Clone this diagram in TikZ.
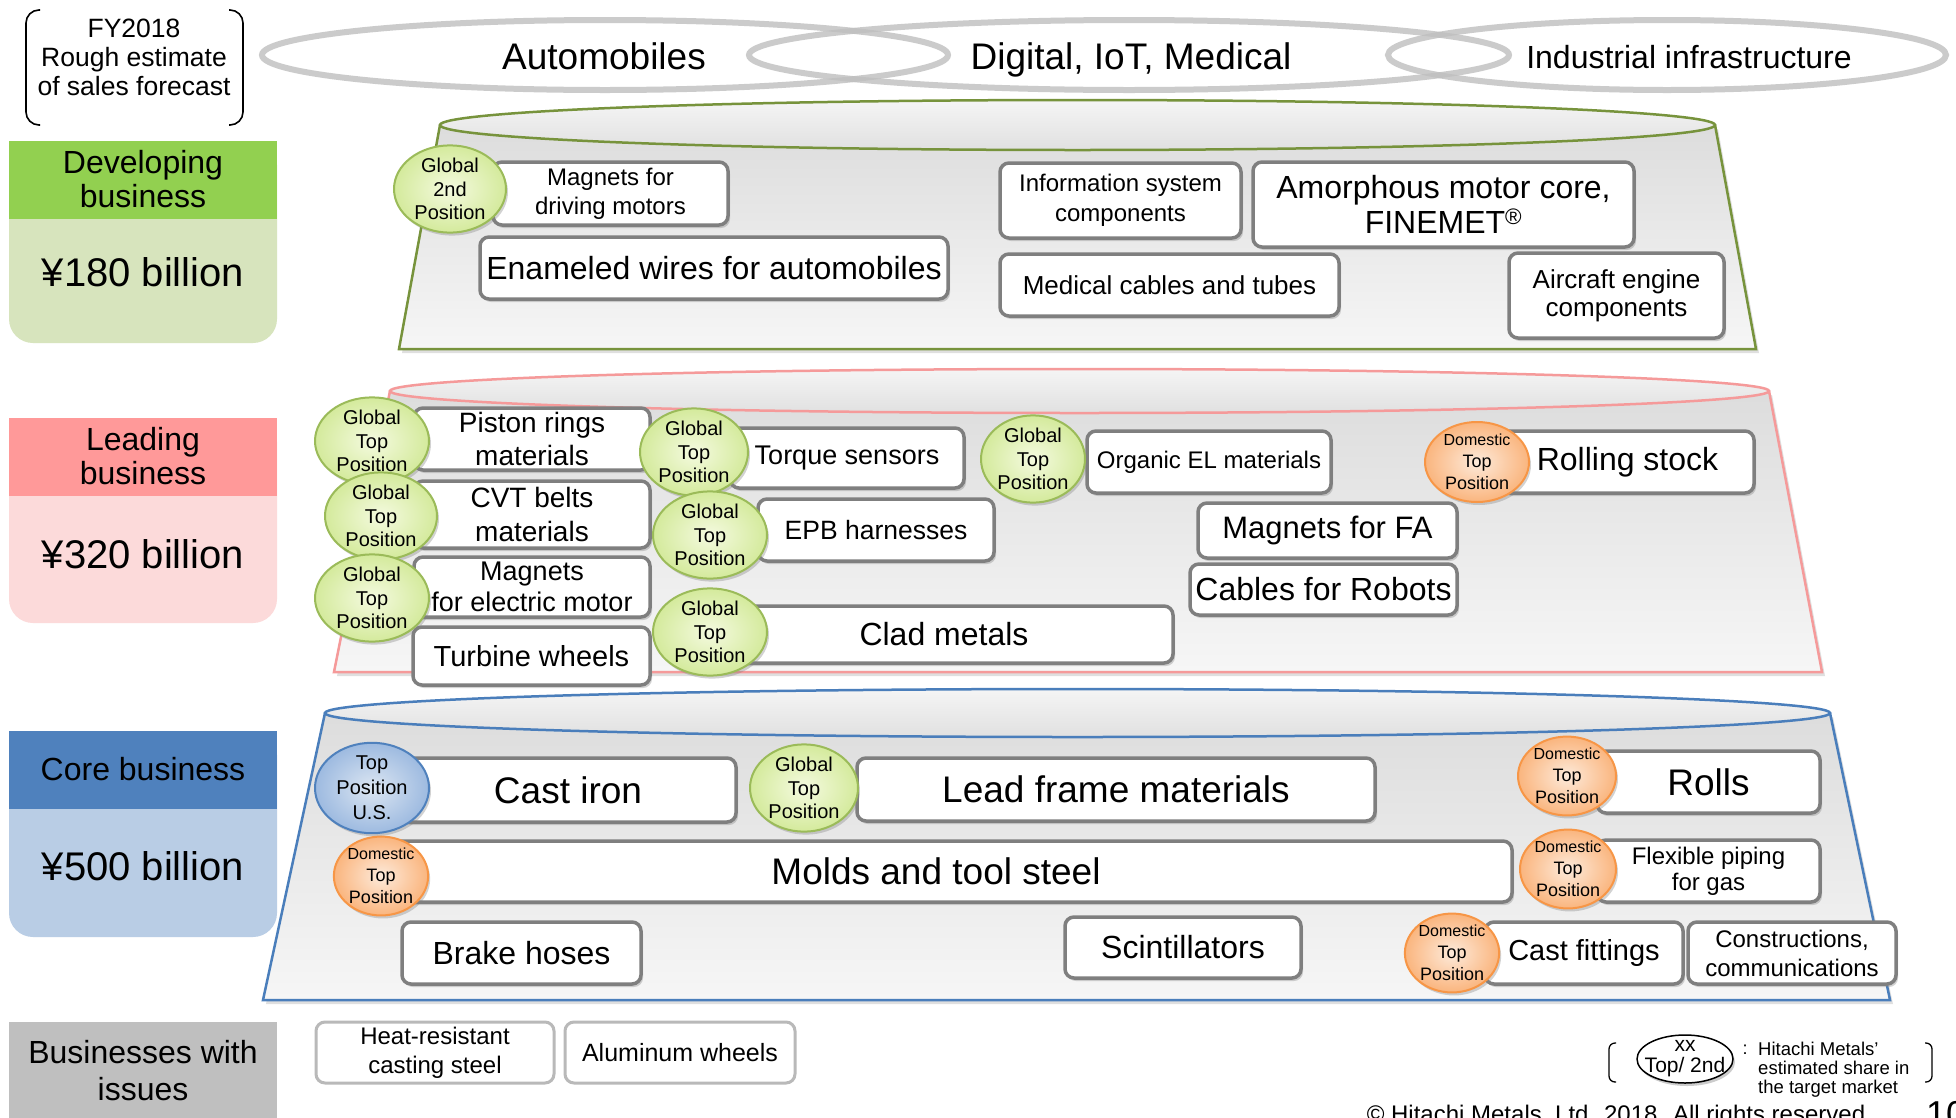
\documentclass[tikz,border=0pt]{standalone}
\usepackage{fontspec}
\setmainfont{Liberation Sans}
\usetikzlibrary{shapes.geometric,shadows}

\definecolor{devhead}{HTML}{92D050}
\definecolor{devbody}{HTML}{D7E4BD}
\definecolor{leadhead}{HTML}{FF9999}
\definecolor{leadbody}{HTML}{FCDADA}
\definecolor{corehead}{HTML}{4F81BD}
\definecolor{corebody}{HTML}{B9CDE5}
\definecolor{issuehead}{HTML}{BFBFBF}
\definecolor{tiergreen}{HTML}{77933C}
\definecolor{tierred}{HTML}{F59A9A}
\definecolor{tierblue}{HTML}{4A7EBB}
\definecolor{boxgray}{HTML}{7F7F7F}
\definecolor{ringgray}{HTML}{BFBFBF}
\definecolor{gline}{HTML}{9BBB59}
\definecolor{gin}{HTML}{F4FADF}
\definecolor{gout}{HTML}{D4EA9C}
\definecolor{oline}{HTML}{F79646}
\definecolor{oin}{HTML}{FDEADA}
\definecolor{oout}{HTML}{FAB57E}
\definecolor{bline}{HTML}{4F81BD}
\definecolor{bin}{HTML}{DCE6F2}
\definecolor{bout}{HTML}{9DBAE0}

\newcommand\fsz[2]{\fontsize{#1}{#2}\selectfont}

\begin{document}
\begin{tikzpicture}[x=1pt,y=-1pt,
  sz/.style 2 args={minimum width=#1pt, minimum height=#2pt},
  ring/.style={draw=ringgray, line width=6pt, draw opacity=0.8},
  bracketline/.style={draw=black, line width=1.6pt, rounded corners=13pt},
  tierbody/.style={line width=2.5pt, top color=gray!27, bottom color=gray!7,
    drop shadow={shadow xshift=3pt, shadow yshift=-4pt, opacity=0.25}},
  tiertop/.style={line width=2.5pt, top color=gray!8, bottom color=gray!24},
  itembox/.style={rectangle, draw=boxgray, line width=3.5pt, fill=white,
    rounded corners=9pt, inner sep=0pt, align=center,
    drop shadow={shadow xshift=2pt, shadow yshift=-3pt, opacity=0.35}},
  issuebox/.style={rectangle, draw=gray!55, line width=3pt, fill=white,
    rounded corners=9pt, inner sep=0pt, align=center},
  badge/.style={ellipse, line width=2pt, inner sep=0pt, align=center,
    font=\fsz{20}{23.5},
    drop shadow={shadow xshift=2pt, shadow yshift=-3pt, opacity=0.35}},
  gbadge/.style={badge, draw=gline, inner color=gin, outer color=gout},
  obadge/.style={badge, draw=oline, inner color=oin, outer color=oout, font=\fsz{18}{22}},
  bbadge/.style={badge, draw=bline, inner color=bin, outer color=bout, font=\fsz{20}{25}},
  headtext/.style={align=center, inner sep=0pt, font=\fsz{32}{34}},
  amount/.style={inner sep=0pt, font=\fsz{40}{44}},
]
\useasboundingbox (0,0) rectangle (1956,1117);
\clip (0,0) rectangle (1956,1117);
\fill[white] (0,0) rectangle (1956,1117);

% ---- market rings along the top ----
\draw[ring] (605,55) ellipse [x radius=343, y radius=35];
\draw[ring] (1129,55) ellipse [x radius=380, y radius=35];
\draw[ring] (1667,55) ellipse [x radius=279, y radius=35];
\node[inner sep=0pt, anchor=base, font=\fsz{37}{40}] (automobiles) at (604,69.5) {Automobiles};
\node[inner sep=0pt, anchor=base, font=\fsz{37}{40}] (digital) at (1131,69.5) {Digital, IoT, Medical};
\node[inner sep=0pt, anchor=base, font=\fsz{32}{36}] (industrial) at (1689,68.5) {Industrial infrastructure};

% ---- forecast caption in round brackets ----
\draw[bracketline] (40,10) -- (26,10) -- (26,125) -- (40,125);
\draw[bracketline] (229,10) -- (243,10) -- (243,125) -- (229,125);
\node[align=center, inner sep=0pt, font=\fsz{26.5}{29}] (fy) at (134,57)
  {FY2018\\Rough estimate\\of sales forecast};

% ---- category panels on the left ----
\fill[devbody, rounded corners=24pt] (9,141) rectangle (277,343);
\fill[devhead] (9,141) rectangle (277,219);
\node[headtext] (devname) at (143,179) {Developing\\business};
\node[amount] (devamt) at (143,272) {¥180 billion};

\fill[leadbody, rounded corners=24pt] (9,418) rectangle (277,623);
\fill[leadhead] (9,418) rectangle (277,496);
\node[headtext] (leadname) at (143,456) {Leading\\business};
\node[amount] (leadamt) at (143,554) {¥320 billion};

\fill[corebody, rounded corners=24pt] (9,731) rectangle (277,937);
\fill[corehead] (9,731) rectangle (277,809);
\node[headtext] (corename) at (143,769) {Core business};
\node[amount] (coreamt) at (143,866) {¥500 billion};

\fill[issuehead] (9,1022) rectangle (277,1130);
\node[headtext, font=\fsz{32}{37}] (issuename) at (143,1071) {Businesses with\\issues};

% ---- developing tier ----
\path[tierbody, draw=tiergreen] (440,125) -- (399,349) -- (1756,349) -- (1715,125) -- cycle;
\path[tiertop, draw=tiergreen] (1077.5,125) ellipse [x radius=637.5, y radius=25];

\node[itembox, sz={235}{63}, font=\fsz{24}{29}] (drivemag) at (610.5,193.5) {Magnets for\\driving motors};
\node[gbadge, sz={112}{75}] (drivebadge) at (450,189) {Global\\2nd\\Position};
\node[itembox, sz={468}{62}, font=\fsz{32}{36}] (enamel) at (714,268) {Enameled wires for automobiles};
\node[itembox, sz={241}{75}, font=\fsz{24}{30}] (infosys) at (1120.5,200.5) {Information system\\components};
\node[itembox, sz={381}{85}, font=\fsz{32}{35}] (amorph) at (1443.5,204.5) {Amorphous motor core,\\FINEMET\textsuperscript{®}};
\node[itembox, sz={339}{62}, font=\fsz{26}{30}] (medical) at (1169.5,285) {Medical cables and tubes};
\node[itembox, sz={215}{85}, font=\fsz{26}{28}] (aircraft) at (1616.5,295.5) {Aircraft engine\\components};

% ---- leading tier ----
\path[tierbody, draw=tierred] (390,391) -- (334,672) -- (1822,672) -- (1769,391) -- cycle;
\path[tiertop, draw=tierred] (1079.5,391) ellipse [x radius=689.5, y radius=22];

\node[itembox, sz={236}{62}, font=\fsz{28}{33}] (piston) at (532,439) {Piston rings\\materials};
\node[itembox, sz={236}{67}, font=\fsz{28}{34}] (cvt) at (532,514.5) {CVT belts\\materials};
\node[itembox, sz={236}{60}, font=\fsz{27}{31}] (elecmag) at (532,587) {Magnets\\for electric motor};
\node[itembox, sz={237}{58}, font=\fsz{29}{32}] (turbine) at (531.5,656) {Turbine wheels};
\node[itembox, sz={234}{60}, font=\fsz{27}{30}] (torque) at (847,458) {Torque sensors};
\node[itembox, sz={236}{62}, font=\fsz{26.5}{30}] (epb) at (876,530) {EPB harnesses};
\node[itembox, sz={458}{57}, font=\fsz{32}{35}] (clad) at (944,634.5) {Clad metals};
\node[itembox, sz={244}{62}, font=\fsz{24}{28}] (organic) at (1209,462) {Organic EL materials};
\node[itembox, sz={259}{55}, font=\fsz{31}{34}] (fa) at (1327.5,530.5) {Magnets for FA};
\node[itembox, sz={267}{51}, font=\fsz{32}{35}] (robots) at (1323.5,589.5) {Cables for Robots};
\node[itembox, sz={253}{62}, font=\fsz{32}{35}] (rolling) at (1627.5,462) {Rolling stock};

\node[gbadge, sz={114}{75}] (pistonbadge) at (372,441) {Global\\Top\\Position};
\node[gbadge, sz={112}{75}] (cvtbadge) at (381,516) {Global\\Top\\Position};
\node[gbadge, sz={114}{80}] (elecmagbadge) at (372,598) {Global\\Top\\Position};
\node[gbadge, sz={108}{76}] (torquebadge) at (694,452) {Global\\Top\\Position};
\node[gbadge, sz={114}{76}] (epbbadge) at (710,535) {Global\\Top\\Position};
\node[gbadge, sz={114}{78}] (cladbadge) at (710,632) {Global\\Top\\Position};
\node[gbadge, sz={104}{75}] (organicbadge) at (1033,459) {Global\\Top\\Position};
\node[obadge, sz={104}{80}] (rollingbadge) at (1477,462) {{\fsz{16}{22}Domestic}\\Top\\Position};

% ---- core tier ----
\path[tierbody, draw=tierblue] (325,713) -- (263,1000) -- (1890,1000) -- (1830,713) -- cycle;
\path[tiertop, draw=tierblue] (1077.5,713) ellipse [x radius=752.5, y radius=24];

\node[itembox, sz={336}{64}, font=\fsz{37}{40}] (castiron) at (568,790) {Cast iron};
\node[itembox, sz={518}{63}, font=\fsz{37}{40}] (leadframe) at (1116,789.5) {Lead frame materials};
\node[itembox, sz={223}{62}, font=\fsz{37}{40}] (rolls) at (1708.5,782) {Rolls};
\node[itembox, sz={1152}{61}, font=\fsz{37}{40}] (molds) at (936,871.5) {Molds and tool steel};
\node[itembox, sz={223}{62}, font=\fsz{24}{26}] (piping) at (1708.5,871) {Flexible piping\\for gas};
\node[itembox, sz={239}{62}, font=\fsz{32}{35}] (brake) at (521.5,953) {Brake hoses};
\node[itembox, sz={236}{61}, font=\fsz{32}{35}] (scint) at (1183,947.5) {Scintillators};
\node[itembox, sz={198}{62}, font=\fsz{29}{32}] (fittings) at (1584,953) {Cast fittings};
\node[itembox, sz={208}{62}, font=\fsz{24}{29}] (constr) at (1792,953) {Constructions,\\communications};

\node[bbadge, sz={114}{77}] (castironbadge) at (372,788) {Top\\Position\\U.S.};
\node[gbadge, sz={108}{77}] (leadframebadge) at (804,788) {Global\\Top\\Position};
\node[obadge, sz={98}{76}] (rollsbadge) at (1567,776) {{\fsz{16}{22}Domestic}\\Top\\Position};
\node[obadge, sz={94}{76}] (moldsbadge) at (381,876) {{\fsz{16}{22}Domestic}\\Top\\Position};
\node[obadge, sz={96}{75}] (pipingbadge) at (1568,869) {{\fsz{16}{22}Domestic}\\Top\\Position};
\node[obadge, sz={94}{77}] (fittingsbadge) at (1452,953) {{\fsz{16}{22}Domestic}\\Top\\Position};

% ---- businesses with issues ----
\node[issuebox, sz={238}{61}, font=\fsz{24}{29}] (heat) at (435,1052.5) {Heat-resistant\\casting steel};
\node[issuebox, sz={230}{61}, font=\fsz{25}{28}] (alwheel) at (680,1052.5) {Aluminum wheels};

% ---- legend ----
\draw[bracketline, line width=1.3pt, rounded corners=6pt] (1616,1043) -- (1609,1043) -- (1609,1082) -- (1616,1082);
\draw[bracketline, line width=1.3pt, rounded corners=6pt] (1925,1043) -- (1932,1043) -- (1932,1082) -- (1925,1082);
\node[ellipse, draw=black, line width=1.5pt, fill=white, sz={96}{48}, inner sep=0pt,
  drop shadow={shadow xshift=2pt, shadow yshift=-3pt, opacity=0.4}] (legendmark) at (1685,1059) {};
\node[align=center, inner sep=0pt, font=\fsz{21}{21}] (legendtext) at (1685,1059) {xx\\Top/ 2nd};
\node[inner sep=0pt, font=\fsz{18}{19}] (legendcolon) at (1745,1050) {:};
\node[align=left, anchor=west, inner sep=0pt, font=\fsz{18.5}{19}] (legenddesc) at (1758,1070)
  {Hitachi Metals’\\estimated share in\\the target market};

% ---- footer ----
\node[anchor=base east, inner sep=0pt, font=\fsz{24}{26}] (copyright) at (1872,1122)
  {© Hitachi Metals, Ltd. 2018. All rights reserved.};
\node[anchor=base west, inner sep=0pt, font=\fsz{36}{40}] (pageno) at (1926,1126) {10};
\end{tikzpicture}
\end{document}
